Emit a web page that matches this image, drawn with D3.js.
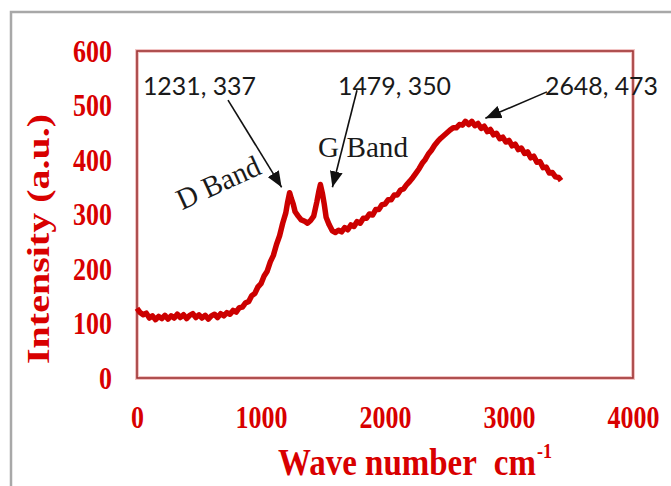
<!DOCTYPE html>
<html><head><meta charset="utf-8">
<script src="https://cdn.jsdelivr.net/npm/d3@7"></script>
<style>html,body{margin:0;padding:0;background:#fff;}svg{display:block;}</style>
</head><body>
<svg id="chart" width="671" height="486"></svg>
<script>
// ---- data ----
const waveNumbers = [0,25,50,75,100,125,150,175,200,225,250,275,300,325,350,375,400,425,450,475,500,525,550,575,600,625,650,675,700,725,750,775,800,825,850,875,900,925,950,975,1000,1025,1050,1075,1100,1125,1150,1175,1200,1215,1231,1245,1260,1275,1300,1325,1350,1375,1400,1425,1450,1465,1479,1495,1510,1525,1550,1575,1600,1625,1650,1675,1700,1725,1750,1775,1800,1825,1850,1875,1900,1925,1950,1975,2000,2025,2050,2075,2100,2125,2150,2175,2200,2225,2250,2275,2300,2325,2350,2375,2400,2425,2450,2475,2500,2525,2550,2575,2600,2625,2648,2675,2700,2725,2750,2775,2800,2825,2850,2875,2900,2925,2950,2975,3000,3025,3050,3075,3100,3125,3150,3175,3200,3225,3250,3275,3300,3325,3350,3375,3400,3420];
const intensity = [128,120,116,119,110,114,107,113,109,115,108,114,110,117,111,116,109,115,118,111,116,110,115,108,114,117,111,118,114,120,117,124,121,129,130,138,140,151,155,167,173,187,196,213,225,245,261,284,303,323,340,329,319,305,297,290,288,284,289,297,323,341,355,339,319,295,281,270,267,271,268,276,272,281,278,287,284,293,293,301,299,309,309,318,319,327,327,336,336,345,347,355,361,368,376,384,394,401,411,418,427,434,440,445,450,455,459,459,465,464,471,465,471,463,467,458,462,452,456,446,449,439,442,433,436,426,429,419,422,412,415,404,407,396,397,386,387,376,377,369,368,362];
const xTicks = [0,1000,2000,3000,4000];
const yTicks = [0,100,200,300,400,500,600];
const peakLabels = ["1231, 337","1479, 350","2648, 473"];
const peakX = [1231,1479,2648];
const peakY = [337,350,473];
const bandLabels = ["D Band","G Band"];

// ---- layout ----
const svg = d3.select("#chart");
const L = 137, R = 633, T = 51, B = 378;
const x = d3.scaleLinear().domain([0,4000]).range([L,R]);
const y = d3.scaleLinear().domain([0,600]).range([B,T]);
const red = "#d80000";
const serif = "'Liberation Serif','Times New Roman',serif";

// outer frame
svg.append("rect").attr("x",11).attr("y",12).attr("width",700).attr("height",520)
  .attr("fill","none").attr("stroke","#a8a8a8").attr("stroke-width",2.5);

// plot border
svg.append("rect").attr("x",L).attr("y",T).attr("width",R-L).attr("height",B-T)
  .attr("fill","none").attr("stroke","#f2c4c4").attr("stroke-width",4);
svg.append("rect").attr("x",L).attr("y",T).attr("width",R-L).attr("height",B-T)
  .attr("fill","none").attr("stroke","#9e3434").attr("stroke-width",1.6);

// axes
const gx = svg.append("g").attr("transform",`translate(0,${B})`)
  .call(d3.axisBottom(x).tickValues(xTicks).tickSize(0).tickFormat(d3.format("d")));
gx.select(".domain").remove();
gx.selectAll("text").attr("y",null).attr("dy",null)
  .attr("transform","translate(0,50) scale(1,1.2)")
  .attr("font-family",serif).attr("font-weight","bold").attr("font-size",26).attr("fill",red);

const gy = svg.append("g").attr("transform",`translate(${L},0)`)
  .call(d3.axisLeft(y).tickValues(yTicks).tickSize(0).tickFormat(d3.format("d")));
gy.select(".domain").remove();
gy.selectAll("text").attr("x",null).attr("dy",null)
  .attr("transform","translate(-25,10) scale(1,1.2)")
  .attr("font-family",serif).attr("font-weight","bold").attr("font-size",26).attr("fill",red);

// axis titles
const xt = svg.append("text").attr("transform","translate(278,475) scale(1,1.15)")
  .attr("font-family",serif).attr("font-weight","bold").attr("font-size",33).attr("fill",red);
xt.append("tspan").text("Wave number");
xt.append("tspan").attr("dx",17).text("cm");
xt.append("tspan").attr("font-size",18).attr("dx",1).attr("dy",-15).text("-1");

svg.append("text").attr("transform","translate(49,239) scale(1,1.25) rotate(-90)")
  .attr("text-anchor","middle")
  .attr("font-family",serif).attr("font-weight","bold").attr("font-size",32).attr("fill",red)
  .text("Intensity (a.u.)");

// spectrum line
const data = waveNumbers.map((w,i)=>({w, v:intensity[i]}));
svg.append("path").datum(data)
  .attr("fill","none").attr("stroke","#cc0000").attr("stroke-width",5.5)
  .attr("stroke-linejoin","round")
  .attr("d", d3.line().x(d=>x(d.w)).y(d=>y(d.v)));

// arrows
const defs = svg.append("defs");
defs.append("marker").attr("id","ah").attr("markerUnits","userSpaceOnUse")
  .attr("markerWidth",17).attr("markerHeight",13).attr("refX",16).attr("refY",6.5)
  .attr("orient","auto")
  .append("path").attr("d","M0,0 L16,6.5 L0,13 Z").attr("fill","#111");

// arrow start points in data space, tip offsets from the peak
const arrowStartW = [734,1774,3306], arrowStartV = [510,528,525];
const tipOffset = [[-8,-7],[12,0],[20,-2]];
peakX.forEach((p,i)=>{
  svg.append("line")
    .attr("x1",x(arrowStartW[i])).attr("y1",y(arrowStartV[i]))
    .attr("x2",x(p)+tipOffset[i][0]).attr("y2",y(peakY[i])+tipOffset[i][1])
    .attr("stroke","#111").attr("stroke-width",1.6).attr("marker-end","url(#ah)");
});

// peak labels
const labelW = [48,1621,3290];
peakLabels.forEach((t,i)=>{
  svg.append("text").attr("x",x(labelW[i])).attr("y",y(519))
    .attr("font-family","Lato,'Open Sans',sans-serif").attr("font-size",25)
    .attr("textLength",113).attr("lengthAdjust","spacingAndGlyphs")
    .attr("fill","#1a1a1a").text(t);
});

// band labels
svg.append("text")
  .attr("transform",`translate(${x(363)},${y(308)}) rotate(-24.5) scale(1,1.1)`)
  .attr("font-family",serif).attr("font-size",27).attr("fill","#1a1a1a")
  .attr("textLength",89).attr("lengthAdjust","spacingAndGlyphs").text(bandLabels[0]);
svg.append("text")
  .attr("transform",`translate(${x(1460)},${y(405)}) scale(1,1.1)`)
  .attr("font-family",serif).attr("font-size",27).attr("fill","#1a1a1a")
  .attr("textLength",90).attr("lengthAdjust","spacingAndGlyphs").text(bandLabels[1]);
</script>
</body></html>
